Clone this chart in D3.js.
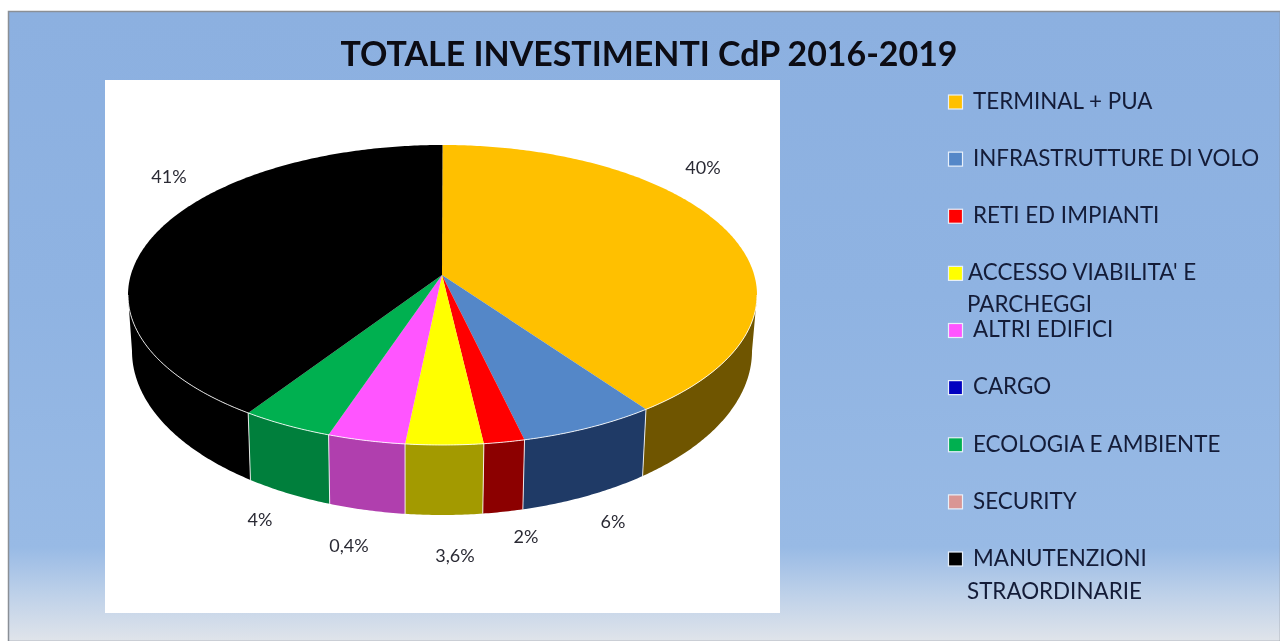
<!DOCTYPE html>
<html><head><meta charset="utf-8">
<script src="https://cdn.jsdelivr.net/npm/d3@7/dist/d3.min.js"></script>
<style>html,body{margin:0;padding:0;background:#fff;overflow:hidden}svg{display:block;filter:blur(0.55px)}text{font-family:Lato,"Open Sans",sans-serif}</style>
</head><body><svg id="c" width="1280" height="641"></svg>
<script>
const titleText = "TOTALE INVESTIMENTI CdP 2016-2019";
const categories = ["TERMINAL + PUA","INFRASTRUTTURE DI VOLO","RETI ED IMPIANTI","ACCESSO VIABILITA' E|PARCHEGGI","ALTRI EDIFICI","CARGO","ECOLOGIA E AMBIENTE","SECURITY","MANUTENZIONI|STRAORDINARIE"];
const sliceShares = [38.8, 7.0, 2.1, 4.0, 4.0, 0, 4.7, 0, 39.4];
const topColors = ["#ffc000","#5487c8","#ff0000","#ffff00","#ff55ff","#0000c0","#00b050","#d99694","#000000"];
const wallColors = ["#6f5500","#1f3a66","#8c0000","#a39a00","#b03fae","#00007a","#007f3c","#8a5f5e","#000000"];
const dataLabels = ["40%","6%","2%","3,6%","0,4%","4%","41%"];

const svg = d3.select("#c");
const defs = svg.append("defs");
const g = defs.append("linearGradient").attr("id","bg").attr("x1",0).attr("x2",0).attr("y1",0).attr("y2",1);
[[0,"#8cb0e0"],[.45,"#8fb3e2"],[.85,"#98bae5"],[.93,"#c0d2e9"],[1,"#e0e4ea"]].forEach(s=>g.append("stop").attr("offset",s[0]).attr("stop-color",s[1]));

// frame and panels
svg.append("rect").attr("x",8.5).attr("y",11.5).attr("width",1272).attr("height",630).attr("fill","url(#bg)").attr("stroke","#8a8f96").attr("stroke-width",1.5);
svg.append("rect").attr("x",105).attr("y",80).attr("width",675).attr("height",533).attr("fill","#fff");

svg.append("text").attr("x",649).attr("y",66).attr("text-anchor","middle").attr("font-size",33.5).attr("font-weight",700).attr("fill","#0c0c14").attr("textLength",617).attr("lengthAdjust","spacingAndGlyphs").text(titleText);

// pie geometry: apex sits above the ellipse centre to give the tilted look
const topE = {cx:442.5, cy:295, rx:314.5, ry:150};
const botE = {cx:442, cy:351, rx:310, ry:164};
const apex = [442, 275];
const pt = (e,t)=>[e.cx+e.rx*Math.sin(t), e.cy-e.ry*Math.cos(t)];
const span = (a,b)=>{const n=Math.max(2,Math.ceil((b-a)/0.01));return d3.range(n+1).map(i=>a+(b-a)*i/n);};
const line = d3.line();
const arcs = d3.pie().sort(null).value((d)=>d)(sliceShares);
const FRONT0 = Math.PI/2, FRONT1 = Math.PI*1.5;

// walls
const wallG = svg.append("g");
arcs.forEach((a,i)=>{
  const s=Math.max(a.startAngle,FRONT0), e=Math.min(a.endAngle,FRONT1);
  if(e<=s) return;
  const ts=span(s,e);
  const pts=ts.map(t=>pt(topE,t)).concat(ts.slice().reverse().map(t=>pt(botE,t)));
  wallG.append("path").attr("d",line(pts)+"Z").attr("fill",wallColors[i]);
});
// top faces
const topG = svg.append("g");
arcs.forEach((a,i)=>{
  if(a.endAngle<=a.startAngle) return;
  const pts=[apex].concat(span(a.startAngle,a.endAngle).map(t=>pt(topE,t)));
  topG.append("path").attr("d",line(pts)+"Z").attr("fill",topColors[i]);
});
// rim and wall separators
const sepG = svg.append("g").attr("fill","none").attr("stroke","#fff").attr("stroke-opacity",.85).attr("stroke-width",1);
sepG.append("path").attr("d",line(span(FRONT0,FRONT1).map(t=>pt(topE,t))));
arcs.forEach(a=>{
  if(a.endAngle<=a.startAngle) return;
  if(a.endAngle>FRONT0 && a.endAngle<FRONT1) sepG.append("path").attr("d",line([pt(topE,a.endAngle),pt(botE,a.endAngle)]));
});

// data labels (baseline-centred positions in the plot panel)
const labelPositions = [[703,168],[613,522],[526,537],[455,556],[349,546],[260,520],[169,177]];
svg.append("g").selectAll("text").data(dataLabels).join("text")
  .attr("x",(d,i)=>labelPositions[i][0]).attr("y",(d,i)=>labelPositions[i][1]).attr("dy","0.35em")
  .attr("text-anchor","middle").attr("font-size",18).attr("fill","#2a2a34").text(d=>d);

// legend
const legendY = d3.scalePoint().domain(categories).range([102,559]);
const legend = svg.append("g").selectAll("g").data(categories).join("g");
legend.append("rect").attr("x",948.5).attr("width",14).attr("height",14)
  .attr("y",d=>legendY(d)-7).attr("fill",(d,i)=>topColors[i]).attr("stroke","#e8f0fa").attr("stroke-width",1.2);
legend.each(function(d){
  const parts=d.split("|"), el=d3.select(this), firstX=d.startsWith("ACCESSO")?968:973;
  parts.forEach((p,j)=>el.append("text").attr("x",j?967:firstX).attr("y",legendY(d)-1+j*(d.startsWith("ACCESSO")?32:33))
    .attr("dy","0.35em").attr("font-size",22.4).attr("fill","#141c38").text(p));
});
</script></body></html>
